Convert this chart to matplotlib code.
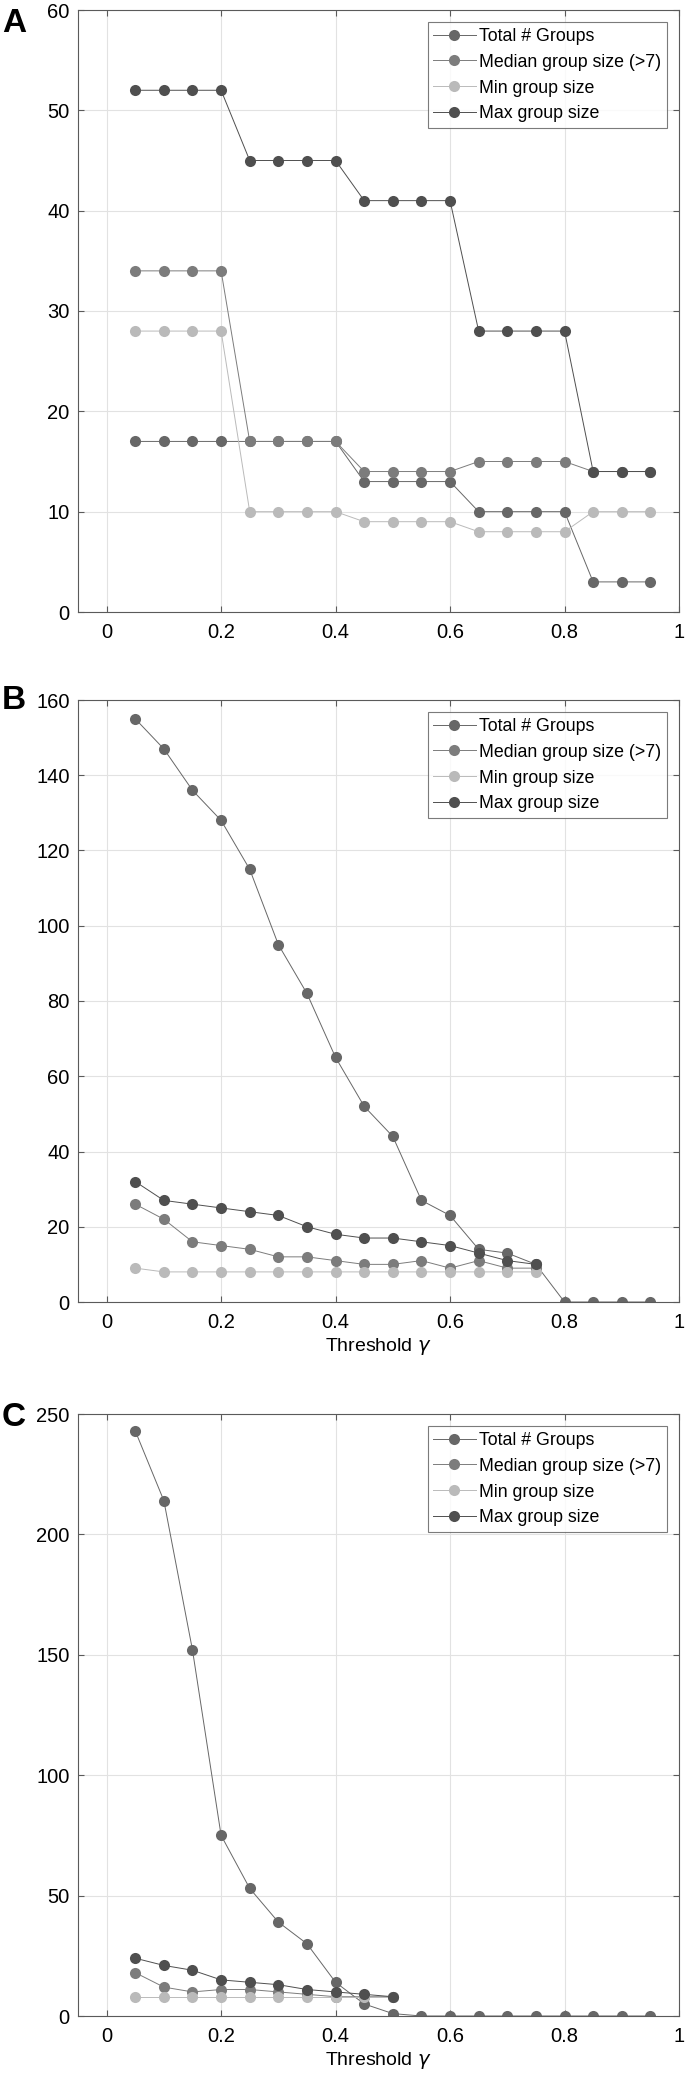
import matplotlib
matplotlib.use("Agg")
import matplotlib.pyplot as plt

plt.rcParams['font.family'] = ['Liberation Sans', 'DejaVu Sans']
plt.rcParams['mathtext.fontset'] = 'dejavusans'

# threshold values on the x axis
thresholds = [0.05, 0.10, 0.15, 0.20, 0.25, 0.30, 0.35, 0.40, 0.45, 0.50,
              0.55, 0.60, 0.65, 0.70, 0.75, 0.80, 0.85, 0.90, 0.95]

series_names = ['Total # Groups', 'Median group size (>7)', 'Min group size', 'Max group size']

# panel A
a_total = [17, 17, 17, 17, 17, 17, 17, 17, 13, 13, 13, 13, 10, 10, 10, 10, 3, 3, 3]
a_median = [34, 34, 34, 34, 17, 17, 17, 17, 14, 14, 14, 14, 15, 15, 15, 15, 14, 14, 14]
a_min = [28, 28, 28, 28, 10, 10, 10, 10, 9, 9, 9, 9, 8, 8, 8, 8, 10, 10, 10]
a_max = [52, 52, 52, 52, 45, 45, 45, 45, 41, 41, 41, 41, 28, 28, 28, 28, 14, 14, 14]

# panel B (size series stop at 0.75)
b_total = [155, 147, 136, 128, 115, 95, 82, 65, 52, 44, 27, 23, 14, 13, 10, 0, 0, 0, 0]
b_median = [26, 22, 16, 15, 14, 12, 12, 11, 10, 10, 11, 9, 11, 9, 9]
b_min = [9, 8, 8, 8, 8, 8, 8, 8, 8, 8, 8, 8, 8, 8, 8]
b_max = [32, 27, 26, 25, 24, 23, 20, 18, 17, 17, 16, 15, 13, 11, 10]

# panel C (size series stop at 0.5)
c_total = [243, 214, 152, 75, 53, 39, 30, 14, 5, 1, 0, 0, 0, 0, 0, 0, 0, 0, 0]
c_median = [18, 12, 10, 11, 11, 10, 9, 8, 8, 8]
c_min = [8, 8, 8, 8, 8, 8, 8, 8, 8, 8]
c_max = [24, 21, 19, 15, 14, 13, 11, 10, 9, 8]

colors = ['#676767', '#7c7c7c', '#bababa', '#4f4f4f']

panels = [
    ('A', [a_total, a_median, a_min, a_max], [0, 60], [0, 10, 20, 30, 40, 50, 60], False),
    ('B', [b_total, b_median, b_min, b_max], [0, 160], [0, 20, 40, 60, 80, 100, 120, 140, 160], True),
    ('C', [c_total, c_median, c_min, c_max], [0, 250], [0, 50, 100, 150, 200, 250], True),
]

W, H = 689, 2077
fig = plt.figure(figsize=(W / 100, H / 100), dpi=100)

# axes boxes in pixels: (top, bottom)
boxes = [(10, 612), (700, 1302), (1414, 2016)]
letter_y = [8, 685, 1402]
left_px, right_px = 78, 679

for (letter, data, ylim, yticks, show_xlabel), (top, bot), ly in zip(panels, boxes, letter_y):
    ax = fig.add_axes([left_px / W, 1 - bot / H, (right_px - left_px) / W, (bot - top) / H])
    for vals, name, col in zip(data, series_names, colors):
        ax.plot(thresholds[:len(vals)], vals, '-o', color=col, lw=0.7,
                markersize=8, markeredgewidth=0, label=name)
    ax.set_xlim(-0.05, 1)
    ax.set_ylim(*ylim)
    ax.set_xticks([0, 0.2, 0.4, 0.6, 0.8, 1])
    ax.set_xticklabels(['0', '0.2', '0.4', '0.6', '0.8', '1'])
    ax.set_yticks(yticks)
    ax.grid(True, color='#e2e2e2', lw=0.8)
    ax.set_axisbelow(True)
    for sp in ax.spines.values():
        sp.set_color('#5a5a5a')
        sp.set_linewidth(0.8)
    ax.tick_params(direction='in', length=4, width=0.8, color='#5a5a5a',
                   top=True, right=True, labelsize=14.5)
    ax.tick_params(axis='x', pad=8)
    ax.tick_params(axis='y', pad=6)
    if show_xlabel:
        ax.set_xlabel(r'Threshold $\gamma$', fontsize=14, labelpad=3)
    leg = ax.legend(loc='upper right', fontsize=12.8, frameon=True, fancybox=False,
                    edgecolor='#5a5a5a', handlelength=2.4, handletextpad=0.2,
                    labelspacing=0.5, borderpad=0.3, borderaxespad=0.7)
    leg.get_frame().set_linewidth(0.8)
    fig.text(2 / W, 1 - ly / H, letter, fontsize=24, fontweight='bold', va='top', ha='left')

fig.savefig('out.png', dpi=100)
